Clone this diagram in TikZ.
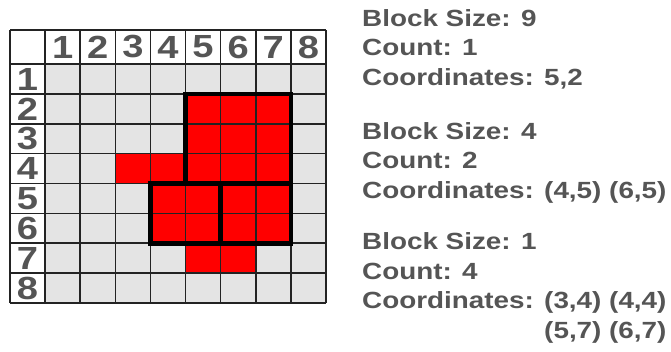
\documentclass[tikz,border=0pt]{standalone}
\usepackage{fontspec}
\setsansfont{Liberation Sans}[FakeStretch=1.19]
\definecolor{cellgray}{RGB}{228,228,228}
\definecolor{blockred}{RGB}{255,0,0}
\definecolor{labelgray}{RGB}{85,85,85}
\definecolor{gridline}{RGB}{35,35,35}

\begin{document}
\begin{tikzpicture}[
    x=1pt, y=-1pt,
    cell/.style={fill=cellgray},
    hit/.style={fill=blockred},
    gridlines/.style={draw=gridline, line width=1.6pt},
    block/.style={draw=black, line width=4.5pt},
    header/.style={font=\sffamily\bfseries\fontsize{32}{32}\selectfont, text=labelgray, inner sep=0pt},
    info/.style={font=\sffamily\bfseries\fontsize{23.4}{29.5}\selectfont, text=labelgray, align=left, inner sep=0pt, anchor=base west}
]
\useasboundingbox (0,0) rectangle (671,351);

% board
\fill[white] (10,30) rectangle (325.9,303);
\fill[cell] (45.1,64) rectangle (325.9,303);
\foreach \c/\r in {5/2,6/2,7/2,5/3,6/3,7/3,3/4,4/4,5/4,6/4,7/4,4/5,5/5,6/5,7/5,4/6,5/6,6/6,7/6,5/7,6/7}
    \fill[hit] ({10+35.1*\c},{64+29.875*(\r-1)}) rectangle ++(35.1,29.875);

% grid lines
\foreach \k in {0,...,9}
    \draw[gridlines] ({10+35.1*\k},30) -- ({10+35.1*\k},303);
\draw[gridlines] (10,30) -- (325.9,30);
\foreach \k in {0,...,8}
    \draw[gridlines] (10,{64+29.875*\k}) -- (325.9,{64+29.875*\k});

% blocks
\draw[block] ({10+35.1*5},{64+29.875*1}) rectangle ({10+35.1*8},{64+29.875*4});
\draw[block] ({10+35.1*4},{64+29.875*4}) rectangle ({10+35.1*6},{64+29.875*6});
\draw[block] ({10+35.1*6},{64+29.875*4}) rectangle ({10+35.1*8},{64+29.875*6});

% headers
\foreach \n in {1,...,8} {
    \node[header] (col\n) at ({10+35.1*\n+17.55},47) {\n};
    \node[header] (row\n) at (27.5,{64+29.875*(\n-1)+15}) {\n};
}

% block lists (base = last line)
\node[info] (size9) at (362,85) {Block Size: 9\\Count: 1\\Coordinates: 5,2};
\node[info] (size4) at (362,198) {Block Size: 4\\Count: 2\\Coordinates: (4,5) (6,5)};
\node[info] (size1) at (362,338) {Block Size: 1\\Count: 4\\Coordinates: (3,4) (4,4)\\\phantom{Coordinates: }(5,7) (6,7)};

\end{tikzpicture}
\end{document}
